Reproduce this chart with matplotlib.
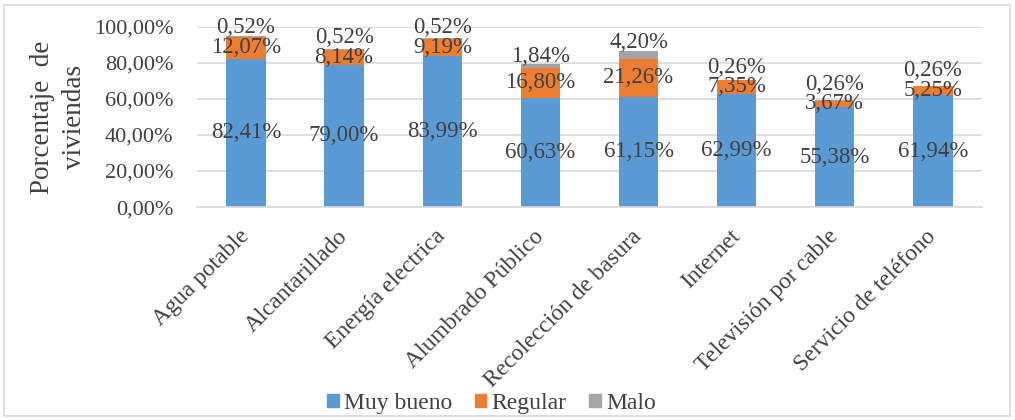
import numpy as np
import matplotlib.pyplot as plt
from matplotlib.patches import Rectangle
from matplotlib.ticker import FuncFormatter

plt.rcParams['font.family'] = ['Liberation Serif', 'DejaVu Serif']

servicios = ['Agua potable', 'Alcantarillado', 'Energía electrica', 'Alumbrado Público',
             'Recolección de basura', 'Internet', 'Televisión por cable', 'Servicio de teléfono']
muy_bueno = [82.41, 79.00, 83.99, 60.63, 61.15, 62.99, 55.38, 61.94]
regular = [12.07, 8.14, 9.19, 16.80, 21.26, 7.35, 3.67, 5.25]
malo = [0.52, 0.52, 0.52, 1.84, 4.20, 0.26, 0.26, 0.26]

series = ['Muy bueno', 'Regular', 'Malo']
colores = ['#5B9BD5', '#ED7D31', '#A5A5A5']
txt = '#404040'

def pct(v):
    return f'{v:.2f}'.replace('.', ',') + '%'

fig = plt.figure(figsize=(10.15, 4.2), dpi=100)
ax = fig.add_axes([0.194, 0.507, 0.7735, 0.429])

x = np.arange(len(servicios))
w = 0.4
mb = np.array(muy_bueno)
rg = np.array(regular)
ml = np.array(malo)

ax.bar(x, mb, w, color=colores[0], zorder=2)
ax.bar(x, rg, w, bottom=mb, color=colores[1], zorder=2)
ax.bar(x, ml, w, bottom=mb + rg, color=colores[2], zorder=2)

fs = 16.5
for i in range(len(x)):
    ax.text(x[i], mb[i] / 2, pct(mb[i]), ha='center', va='center', fontsize=fs, color=txt, zorder=3)
    yr = mb[i] + rg[i] / 2
    ax.text(x[i], yr, pct(rg[i]), ha='center', va='center', fontsize=fs, color=txt, zorder=3)
    # etiqueta de "Malo" por encima de la barra, sin pisar la de "Regular"
    top = mb[i] + rg[i] + ml[i]
    ym = max(top + 4.5, yr + 11)
    ax.text(x[i], ym, pct(ml[i]), ha='center', va='center', fontsize=fs, color=txt, zorder=3)

ax.set_ylim(0, 100)
ax.set_xlim(-0.5, len(x) - 0.5)
ax.set_yticks(np.arange(0, 101, 20))
ax.yaxis.set_major_formatter(FuncFormatter(lambda v, p: pct(v)))
ax.grid(axis='y', color='#d9d9d9', linewidth=1.2, zorder=0)
for s in ['top', 'right', 'left']:
    ax.spines[s].set_visible(False)
ax.spines['bottom'].set_color('#d9d9d9')
ax.spines['bottom'].set_linewidth(1.2)
ax.tick_params(axis='y', length=0, labelsize=16, colors=txt, pad=17)
ax.tick_params(axis='x', length=0, colors=txt, pad=19)

ax.set_xticks(x)
ax.set_xticklabels(servicios, rotation=45, ha='right', va='center', rotation_mode='anchor', fontsize=17)

ax.set_ylabel('Porcentaje  de\nviviendas', fontsize=19.5, color=txt, linespacing=1.33, labelpad=5)

handles = [Rectangle((0, 0), 1, 1, color=c) for c in colores]
fig.legend(handles, series, loc='center', bbox_to_anchor=(0.484, 0.04), ncol=3, frameon=False,
           fontsize=17, handlelength=0.5, handleheight=0.5, handletextpad=0.22,
           columnspacing=0.95, labelcolor=txt)

fig.patches.append(Rectangle((0.004, 0.01), 0.991, 0.978, transform=fig.transFigure,
                             fill=False, edgecolor='#d9d9d9', linewidth=1.2))

fig.savefig('out.png', dpi=100)
